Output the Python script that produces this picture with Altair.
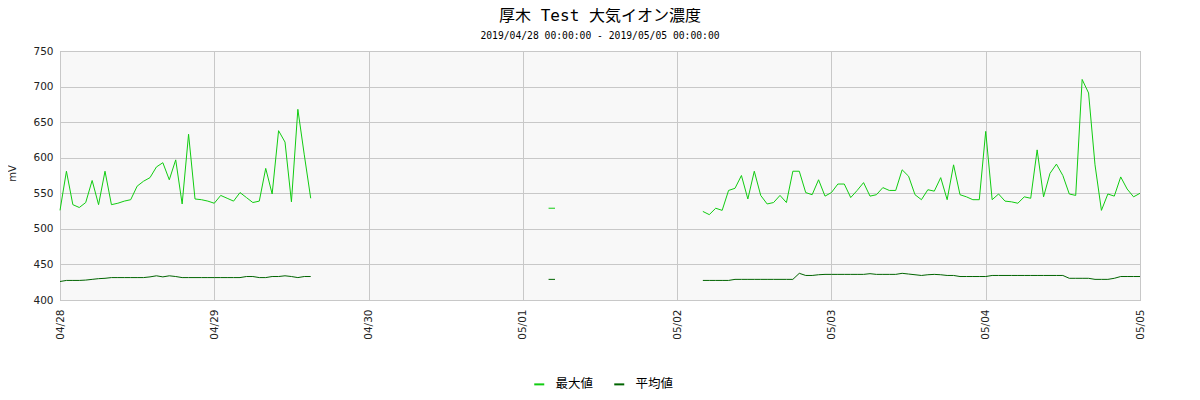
import altair as alt
import pandas as pd

TITLE = "厚木 Test 大気イオン濃度"
SUBTITLE = "2019/04/28 00:00:00 - 2019/05/05 00:00:00"
SERIES = ["最大値", "平均値"]
COLORS = ["#11cc11", "#006400"]
BASE_TIME = "2019-04-28 00:00:00"

# segment start hours (hours after 2019/04/28 00:00)
seg_start_hours = [0, 76, 100]

max_seg1 = [526, 581, 534, 530, 537, 568, 534, 581, 534, 536, 539, 541, 560, 567,
            572, 587, 593, 569, 597, 535, 633, 542, 541, 539, 536, 547, 543, 539,
            551, 544, 537, 539, 585, 549, 638, 622, 538, 668, 604, 543]
avg_seg1 = [426, 427.5, 427.5, 427.5, 428, 429, 430, 430.5, 431.5, 431.5, 431.5,
            431.5, 431.5, 431.5, 432.5, 434, 432.5, 434, 433, 431.5, 431.5, 431.5,
            431.5, 431.5, 431.5, 431.5, 431.5, 431.5, 431.5, 433, 433, 431.5, 431.5,
            433, 433, 434, 433, 431.5, 433, 433]

max_seg2 = [529, 529]
avg_seg2 = [429, 429]

max_seg3 = [524.5, 520, 529, 526, 554, 557, 575, 542, 581, 547, 535, 537, 547, 537,
            581, 581, 551, 548, 569, 546, 551, 563, 563, 544, 554, 565, 546, 548,
            558, 554, 554, 583, 574, 548, 541, 555, 553, 572, 541, 590, 548, 545,
            541, 541, 637, 541, 549, 539, 538, 536, 545, 543, 611, 545, 578, 591,
            575, 549, 547, 710, 691, 590, 526, 549, 546, 573, 556, 545, 550]
avg_seg3 = ([427.5] * 5 + [429] * 10 + [437.5, 434.5, 434.5, 435.5] + [436] * 7 +
            [437] + [436] * 4 + [437.5, 436.5, 435.5, 434.5, 435.5, 436, 435.5,
            434.5, 434.5] + [433] * 5 + [434.5] * 12 + [430.5] * 4 + [429] * 3 +
            [430.5] + [433] * 4)

segments = [(max_seg1, avg_seg1), (max_seg2, avg_seg2), (max_seg3, avg_seg3)]

base = pd.Timestamp(BASE_TIME)
rows = []
for si, (start, (mx, av)) in enumerate(zip(seg_start_hours, segments)):
    for name, vals in zip(SERIES, (mx, av)):
        for i, v in enumerate(vals):
            t = base + pd.Timedelta(hours=start + i)
            rows.append({"time": t.strftime("%Y-%m-%dT%H:%M:%S"),
                         "value": v, "series": name, "seg": f"{name}-{si}"})
df = pd.DataFrame(rows)

FONT = "DejaVu Sans, Noto Sans CJK JP"
TITLE_FONT = "DejaVu Sans Mono, Noto Sans CJK JP"

chart = alt.Chart(df).mark_line(strokeWidth=1, interpolate="linear").encode(
    x=alt.X("time:T",
            scale=alt.Scale(domain=[alt.DateTime(year=2019, month=4, date=28),
                                    alt.DateTime(year=2019, month=5, date=5)]),
            axis=alt.Axis(title="Date & Hour", format="%m/%d",
                          tickCount={"interval": "day", "step": 1},
                          labelAngle=270, labelAlign="right", labelBaseline="middle",
                          labelPadding=9, titleY=306, titleBaseline="middle")),
    y=alt.Y("value:Q",
            scale=alt.Scale(domain=[400, 750], nice=False, zero=False),
            axis=alt.Axis(title="mV", values=list(range(400, 751, 50)),
                          labelPadding=7, titleX=-45, titleY=122,
                          titleAlign="center", titleBaseline="alphabetic",
                          titleFontSize=10)),
    color=alt.Color("series:N",
                    scale=alt.Scale(domain=SERIES, range=COLORS),
                    sort=SERIES,
                    legend=alt.Legend(title=None, orient="none", direction="horizontal",
                                      legendX=473, legendY=327,
                                      symbolType="stroke", symbolSize=100,
                                      symbolStrokeWidth=2, labelFontSize=12.5,
                                      labelOffset=10, columnPadding=16,
                                      labelFont=FONT)),
    detail="seg:N",
).properties(
    width=1080, height=249,
    autosize=alt.AutoSizeParams(type="none"),
    padding={"left": 52, "top": 43, "right": 52, "bottom": 92},
    title=alt.TitleParams(text=TITLE, subtitle=SUBTITLE, anchor="middle",
                          fontSize=16, fontWeight="normal", font=TITLE_FONT,
                          subtitleFontSize=9.7, subtitleFont=TITLE_FONT,
                          subtitlePadding=7, offset=5, color="#000",
                          subtitleColor="#000"),
).configure_view(
    fill="#f8f8f8", stroke="#aaaaaa", strokeWidth=1
).configure_axis(
    domain=False, ticks=False, grid=True, gridColor="#c8c8c8", gridWidth=1,
    labelFont=FONT, labelFontSize=10.5, labelColor="#222",
    titleFont=FONT, titleFontSize=10.5, titleFontWeight="normal", titleColor="#222",
)

chart.save("out.html", embed_options={"renderer": "svg", "actions": False})
